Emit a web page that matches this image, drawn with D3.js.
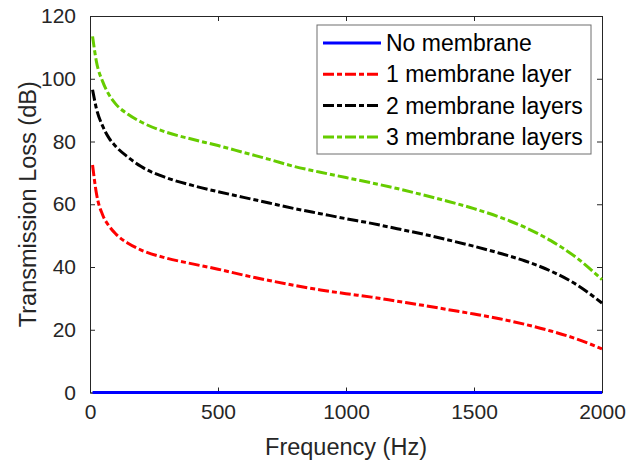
<!DOCTYPE html>
<html>
<head>
<meta charset="utf-8">
<script src="https://cdn.jsdelivr.net/npm/d3@7"></script>
<style>
  body { margin: 0; background: #fff; }
  text { font-family: 'Liberation Sans', Arial, sans-serif; }
</style>
</head>
<body>
<div id="chart"></div>
<script>
// values
var freq = [10, 25, 50, 75, 100, 150, 200, 300, 400, 500, 600, 700, 800, 900, 1000,
  1100, 1200, 1300, 1400, 1500, 1600, 1700, 1800, 1900, 2000];
var tlNone = [0, 0, 0, 0, 0, 0, 0, 0, 0, 0, 0, 0, 0, 0, 0, 0, 0, 0, 0, 0, 0, 0, 0, 0, 0];
var tlOne = [72.5, 63.5, 56.5, 53, 50.6, 47.5, 45.4, 42.8, 41, 39.3, 37.4, 35.7, 34.1, 32.7, 31.5,
  30.4, 29.1, 27.8, 26.4, 25, 23.5, 21.7, 19.6, 17.1, 13.9];
var tlTwo = [96.5, 90.5, 84.8, 81, 78.5, 74.9, 72, 68.4, 66, 64, 62.2, 60.4, 58.6, 57, 55.4,
  53.9, 52.2, 50.5, 48.6, 46.6, 44.4, 41.9, 38.7, 34.4, 28.5];
var tlThree = [113.5, 105.5, 99, 94.8, 92, 88.6, 86.2, 82.9, 80.7, 78.7, 76.5, 74.3, 72, 70.2, 68.5,
  66.8, 65, 63, 60.9, 58.6, 55.9, 52.6, 48.4, 43, 36];
var seriesNames = ["No membrane", "1 membrane layer", "2 membrane layers", "3 membrane layers"];
var xTicks = [0, 500, 1000, 1500, 2000];
var yTicks = [0, 20, 40, 60, 80, 100, 120];

var width = 637,
  height = 464;
var padL = 90, padR = 602, padT = 16, padB = 392.5; // plot box edges in px
var ink = "#262626";
var dashDot = "11,3,5,3"; // matlab style "-."

var svg = d3.select("#chart")
  .append("svg")
  .attr("width", width)
  .attr("height", height);

var x = d3.scaleLinear().domain([0, 2000]).range([padL, padR]);
var y = d3.scaleLinear().domain([0, 120]).range([padB, padT]);

var series = [
  { name: seriesNames[0], vals: tlNone, color: "#0000ff", dash: null },
  { name: seriesNames[1], vals: tlOne, color: "#ff0000", dash: dashDot },
  { name: seriesNames[2], vals: tlTwo, color: "#000000", dash: dashDot },
  { name: seriesNames[3], vals: tlThree, color: "#66cc00", dash: dashDot }
];

function styleAxis(g) {
  g.select(".domain").attr("stroke", ink);
  g.selectAll(".tick line").attr("stroke", ink);
  g.selectAll("text").attr("font-size", "21px").attr("fill", ink)
    .attr("font-family", "'Liberation Sans', Arial, sans-serif");
}

// axes, ticks pointing inwards and mirrored on top/right
svg.append("g")
  .attr("transform", "translate(0," + padB + ")")
  .call(d3.axisBottom(x).tickValues(xTicks).tickFormat(d3.format("d"))
    .tickSizeInner(-5).tickSizeOuter(0).tickPadding(12))
  .call(styleAxis);
svg.append("g")
  .attr("transform", "translate(0," + padT + ")")
  .call(d3.axisTop(x).tickValues(xTicks).tickSizeInner(-5).tickSizeOuter(0).tickFormat(""))
  .call(styleAxis);
svg.append("g")
  .attr("transform", "translate(" + padL + ",0)")
  .call(d3.axisLeft(y).tickValues(yTicks).tickFormat(d3.format("d"))
    .tickSizeInner(-5).tickSizeOuter(0).tickPadding(14))
  .call(styleAxis);
svg.append("g")
  .attr("transform", "translate(" + padR + ",0)")
  .call(d3.axisRight(y).tickValues(yTicks).tickSizeInner(-5).tickSizeOuter(0).tickFormat(""))
  .call(styleAxis);

// curves
var line = d3.line()
  .x(function(d, i) { return x(freq[i]); })
  .y(function(d) { return y(d); })
  .curve(d3.curveMonotoneX);

svg.selectAll("path.curve")
  .data(series)
  .enter()
  .append("path")
  .attr("class", "curve")
  .attr("d", function(d) { return line(d.vals); })
  .attr("fill", "none")
  .attr("stroke", function(d) { return d.color; })
  .attr("stroke-width", 3)
  .attr("stroke-dasharray", function(d) { return d.dash; });

// axis titles
svg.append("text").text("Frequency (Hz)")
  .attr("x", (padL + padR) / 2).attr("y", 455)
  .attr("text-anchor", "middle").attr("font-size", "23.5px").attr("fill", ink);

svg.append("text").text("Transmission Loss (dB)")
  .attr("transform", "translate(36," + (padT + padB) / 2 + ") rotate(-90)")
  .attr("text-anchor", "middle").attr("font-size", "23.5px").attr("fill", ink);

// legend
var lg = svg.append("g");
lg.append("rect")
  .attr("x", 317).attr("y", 25)
  .attr("width", 274).attr("height", 129)
  .attr("fill", "#fff").attr("stroke", "#6e6e6e").attr("stroke-width", 1);

var rows = lg.selectAll("g.row")
  .data(series)
  .enter()
  .append("g")
  .attr("class", "row")
  .attr("transform", function(d, i) { return "translate(0," + (43 + i * 31.3) + ")"; });

rows.append("line")
  .attr("x1", 323).attr("x2", 381)
  .attr("y1", 0).attr("y2", 0)
  .attr("stroke", function(d) { return d.color; })
  .attr("stroke-width", 3)
  .attr("stroke-dasharray", function(d) { return d.dash; });

rows.append("text").text(function(d) { return d.name; })
  .attr("x", 386).attr("y", 8)
  .attr("font-size", "23px").attr("fill", "#000");
</script>
</body>
</html>
